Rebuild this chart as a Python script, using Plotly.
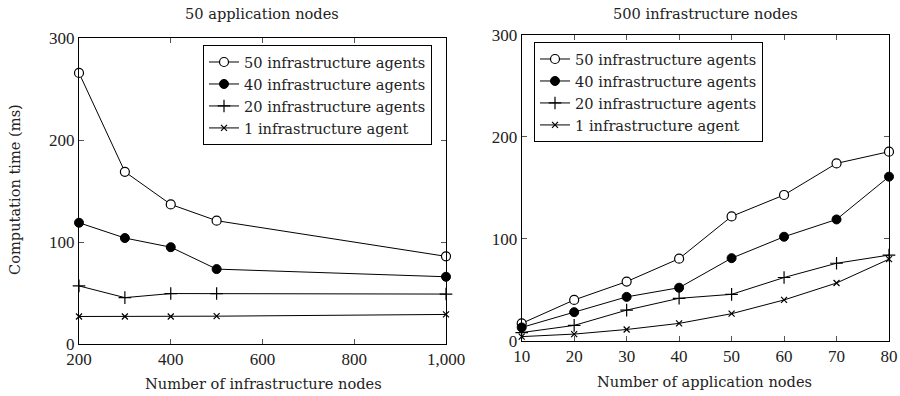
import plotly.graph_objects as go

# Left panel: 50 application nodes
infra_nodes = [200, 300, 400, 500, 1000]
left_50 = [266, 169, 137, 121, 86]
left_40 = [119, 104, 95, 73.5, 66]
left_20 = [57, 45.5, 49.5, 49.5, 49]
left_1 = [27, 27, 27, 27.3, 29]

# Right panel: 500 infrastructure nodes
app_nodes = [10, 20, 30, 40, 50, 60, 70, 80]
right_50 = [17, 40, 58, 80.5, 122, 143, 174, 185.5]
right_40 = [13, 28, 43, 52, 81, 102, 119, 161]
right_20 = [8, 15, 30, 41.6, 45.5, 62, 76, 84]
right_1 = [4, 6.5, 11, 17, 26.5, 40, 56.6, 80]

series_names = ["50 infrastructure agents", "40 infrastructure agents",
                "20 infrastructure agents", "1 infrastructure agent"]

left_xticks = [200, 400, 600, 800, 1000]
left_xticktext = ["200", "400", "600", "800", "1,000"]
right_xticks = [10, 20, 30, 40, 50, 60, 70, 80]
yticks = [0, 100, 200, 300]

TICKFONT = "Liberation Serif"
FONT = "DejaVu Serif"
TXT = "#222"
W, H = 900, 396

markers = [
    dict(symbol="circle", size=9, color="white", line=dict(color="black", width=1.2)),
    dict(symbol="circle", size=9, color="black", line=dict(color="black", width=1)),
    dict(symbol="cross-thin", size=9, color="black", line=dict(color="black", width=1.2)),
    dict(symbol="x-thin", size=6, color="black", line=dict(color="black", width=1.2)),
]

fig = go.Figure()
left_data = [left_50, left_40, left_20, left_1]
right_data = [right_50, right_40, right_20, right_1]
for name, ys, mk in zip(series_names, left_data, markers):
    fig.add_trace(go.Scatter(x=infra_nodes, y=ys, name=name, mode="lines+markers",
                             line=dict(color="black", width=1), marker=mk,
                             cliponaxis=False, xaxis="x", yaxis="y", legend="legend"))
for name, ys, mk in zip(series_names, right_data, markers):
    fig.add_trace(go.Scatter(x=app_nodes, y=ys, name=name, mode="lines+markers",
                             line=dict(color="black", width=1), marker=mk,
                             cliponaxis=False, xaxis="x2", yaxis="y2", legend="legend2"))

def px_x(p):
    return p / W

def px_y(p):
    return 1 - p / H

axis_common = dict(showgrid=False, zeroline=False, showline=True, linecolor="black",
                   linewidth=1, mirror="ticks", ticks="inside", ticklen=5,
                   tickcolor="#555", automargin=False,
                   tickfont=dict(family=TICKFONT, size=17, color=TXT))

legend_common = dict(bordercolor="black", borderwidth=1, bgcolor="white",
                     font=dict(family=FONT, size=14.6, color=TXT), tracegroupgap=0,
                     itemwidth=30)

def label(text, x, y, angle=0):
    return dict(text=text, x=px_x(x), y=px_y(y), xref="paper", yref="paper",
                xanchor="center", yanchor="middle", showarrow=False, textangle=angle,
                font=dict(family=FONT, size=14.6, color=TXT))

fig.update_layout(
    template="none",
    width=W, height=H, margin=dict(l=0, r=0, t=0, b=0, autoexpand=False),
    paper_bgcolor="white", plot_bgcolor="white",
    font=dict(family=FONT, color=TXT),
    xaxis=dict(domain=[px_x(79), px_x(446)], range=[200, 1000], anchor="y",
               tickvals=left_xticks, ticktext=left_xticktext, **axis_common),
    yaxis=dict(domain=[px_y(344), px_y(38.3)], range=[0, 300], anchor="x",
               tickvals=yticks, **axis_common),
    xaxis2=dict(domain=[px_x(521.7), px_x(889)], range=[10, 80], anchor="y2",
                tickvals=right_xticks, **axis_common),
    yaxis2=dict(domain=[px_y(340.7), px_y(35)], range=[0, 300], anchor="x2",
                tickvals=yticks, **axis_common),
    legend=dict(x=px_x(432), y=px_y(45), xanchor="right", yanchor="top", **legend_common),
    legend2=dict(x=px_x(534), y=px_y(42), xanchor="left", yanchor="top", **legend_common),
    showlegend=True,
    annotations=[
        label("50 application nodes", 262, 13),
        label("500 infrastructure nodes", 705, 13),
        label("Number of infrastructure nodes", 263, 383),
        label("Number of application nodes", 704, 381),
        label("Computation time (ms)", 14, 190, -90),
    ],
)

fig.write_html("out.html", config={"displayModeBar": False},
               post_script="document.body.style.margin='0px';")
